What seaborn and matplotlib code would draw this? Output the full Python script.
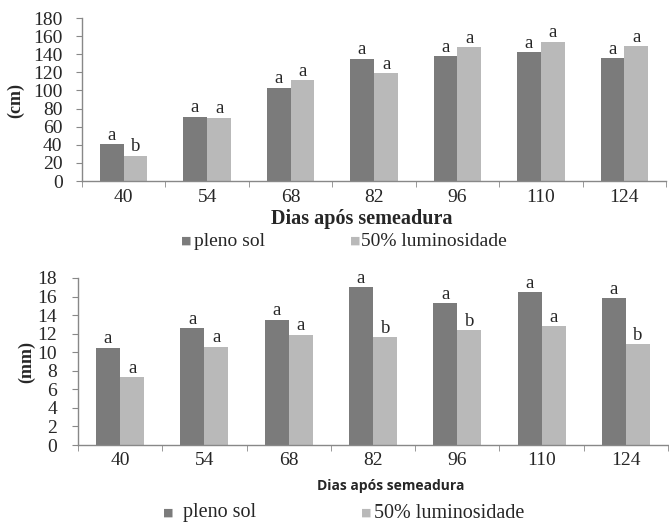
import matplotlib
matplotlib.use("Agg")
import matplotlib.pyplot as plt
import seaborn as sns
import pandas as pd
import numpy as np

days = ["40", "54", "68", "82", "96", "110", "124"]
series = ["pleno sol", "50% luminosidade"]
height_sol = [41, 71, 103, 135, 138, 142, 136]
height_sombra = [28, 70, 111, 119, 148, 154, 149]
height_letters_sol = ["a", "a", "a", "a", "a", "a", "a"]
height_letters_sombra = ["b", "a", "a", "a", "a", "a", "a"]
diam_sol = [10.5, 12.6, 13.5, 17.0, 15.3, 16.5, 15.8]
diam_sombra = [7.3, 10.6, 11.9, 11.6, 12.4, 12.8, 10.9]
diam_letters_sol = ["a", "a", "a", "a", "a", "a", "a"]
diam_letters_sombra = ["a", "a", "a", "b", "b", "a", "b"]

sns.set_style("white")
plt.rcParams['font.family'] = ['Liberation Serif', 'DejaVu Serif']

colors = ["#7b7b7b", "#b9b9b9"]
W, H = 669, 522
fig = plt.figure(figsize=(W / 100, H / 100), dpi=100)

def make_df(a, b):
    return pd.DataFrame({
        "dia": days * 2,
        "serie": [series[0]] * len(days) + [series[1]] * len(days),
        "valor": list(a) + list(b),
    })

def draw(ax, a, b, la, lb, ymax, ystep, ylabel, ylab_xy, xlabel_font, xlab_xy,
         off, ypad, xpad):
    df = make_df(a, b)
    sns.barplot(data=df, x="dia", y="valor", hue="serie", order=days,
                hue_order=series, palette=colors, width=0.57, ax=ax,
                saturation=1, legend=False, edgecolor="none")
    ax.set_xlim(-0.5, len(days) - 0.5)
    ax.set_ylim(0, ymax)
    ax.set_yticks(np.arange(0, ymax + 0.1, ystep))
    for s in ["top", "right"]:
        ax.spines[s].set_visible(False)
    for s in ["left", "bottom"]:
        ax.spines[s].set_color("#888888")
        ax.spines[s].set_linewidth(1.0)
    ax.tick_params(axis="y", which="major", length=4, color="#888888",
                   labelsize=14, pad=ypad, left=True)
    ax.tick_params(axis="x", which="major", length=0, labelsize=14, pad=xpad)
    ax.set_xticks(np.arange(-0.5, len(days) - 0.4, 1), minor=True)
    ax.tick_params(axis="x", which="minor", length=4, color="#888888", bottom=True)
    ax.set_ylabel(ylabel, fontsize=13, fontweight="bold", va="center",
                  ha="center", rotation_mode="anchor")
    ax.yaxis.set_label_coords(*ylab_xy, transform=fig.transFigure)
    ax.set_xlabel("Dias após semeadura", fontweight="bold", **xlabel_font)
    ax.xaxis.set_label_coords(*xlab_xy, transform=fig.transFigure)
    for i, (va, vb, ta, tb) in enumerate(zip(a, b, la, lb)):
        ax.text(i - 0.145, va + off, ta, ha="center", va="bottom", fontsize=13.5)
        ax.text(i + 0.145, vb + off, tb, ha="center", va="bottom", fontsize=13.5)

ax1 = fig.add_axes([82 / W, 1 - 181 / H, (666 - 82) / W, (181 - 18) / H])
draw(ax1, height_sol, height_sombra, height_letters_sol, height_letters_sombra,
     180, 20, "(cm)", (16 / W, 1 - 100 / H), dict(fontsize=14.5, va="center"),
     (362 / W, 1 - 219 / H), 0.3, 10, 6)

ax2 = fig.add_axes([78 / W, 1 - 445 / H, (668 - 78) / W, (445 - 278) / H])
draw(ax2, diam_sol, diam_sombra, diam_letters_sol, diam_letters_sombra,
     18, 2, "(mm)", (27 / W, 1 - 362 / H),
     dict(fontsize=10, family="Open Sans", va="center"),
     (391 / W, 1 - 486 / H), 0.03, 11, 5)

def legend(y, m0, t0, m1, t1, fs):
    fig.text(m0 / W, y, "■", color=colors[0], fontsize=8, va="center",
             ha="left", family="DejaVu Sans")
    fig.text(t0 / W, y, series[0], fontsize=fs, va="center", ha="left")
    fig.text(m1 / W, y, "■", color=colors[1], fontsize=8, va="center",
             ha="left", family="DejaVu Sans")
    fig.text(t1 / W, y, series[1], fontsize=fs, va="center", ha="left")

legend(1 - 241 / H, 181, 194, 350, 361, 14)
legend(1 - 513 / H, 163, 183, 361, 374, 14.5)
fig.savefig("out.png", dpi=100)
